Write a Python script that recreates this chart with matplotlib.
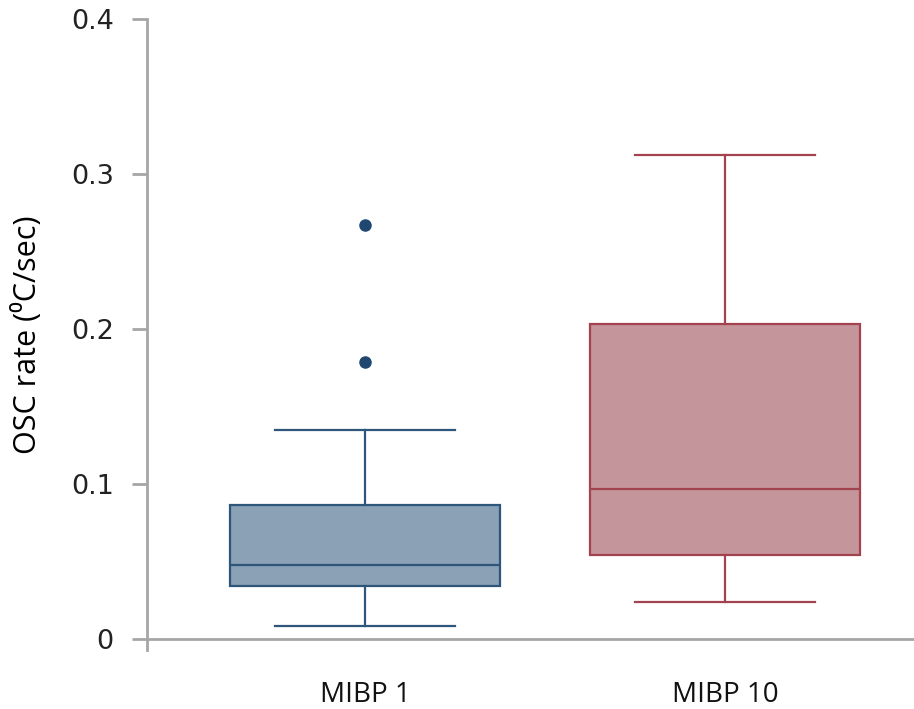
import matplotlib
matplotlib.use("Agg")
import matplotlib.pyplot as plt

# summary stats of OSC rate per group
groups = ["MIBP 1", "MIBP 10"]
whis_lo = [0.0086, 0.0237]
q1 = [0.0344, 0.0542]
median = [0.0477, 0.0968]
q3 = [0.0865, 0.203]
whis_hi = [0.135, 0.3125]
outliers = [[0.179, 0.267], []]

fill_cols = ["#8ba1b5", "#c4959a"]
edge_cols = ["#2e557a", "#a3434f"]

stats = []
for i in range(len(groups)):
    stats.append(dict(label=groups[i], whislo=whis_lo[i], q1=q1[i], med=median[i],
                      q3=q3[i], whishi=whis_hi[i], fliers=outliers[i]))

fig = plt.figure(figsize=(9.14, 7.09), dpi=100)
ax = fig.add_axes([147/914, (709-650)/709, 1-147/914, (650-19)/709])

for i in range(len(groups)):
    ec = edge_cols[i]
    ax.bxp([stats[i]], positions=[i+1], widths=0.75, patch_artist=True,
           showfliers=True,
           boxprops=dict(facecolor=fill_cols[i], edgecolor=ec, linewidth=1.6),
           medianprops=dict(color=ec, linewidth=1.6),
           whiskerprops=dict(color=ec, linewidth=1.6),
           capprops=dict(color=ec, linewidth=1.6),
           capwidths=0.5,
           flierprops=dict(marker='o', markerfacecolor="#1f4770", markeredgecolor="#1f4770",
                           markersize=8))

ax.set_xlim(1-218/360, 2+189/360)
ax.set_ylim(-0.007, 0.4)

for s in ['top', 'right']:
    ax.spines[s].set_visible(False)
ax.spines['bottom'].set_position(('data', 0))
for s in ['left', 'bottom']:
    ax.spines[s].set_color('#a6a6a6')
    ax.spines[s].set_linewidth(2)

ax.tick_params(axis='y', direction='out', length=11, width=2, color='#a6a6a6', pad=13)
ax.tick_params(axis='x', length=0, pad=30)

ax.set_yticks([0, 0.1, 0.2, 0.3, 0.4])
ax.set_yticklabels(["0", "0.1", "0.2", "0.3", "0.4"], family='DejaVu Sans',
                   fontsize=19.5, color='#222222')
ax.set_xticks([1, 2])
ax.set_xticklabels(groups, family=['Open Sans', 'DejaVu Sans'], fontsize=20,
                   color='#111111')

ax.set_ylabel("OSC rate (\u2070C/sec)", family=['Open Sans', 'DejaVu Sans'],
              fontsize=22)
ax.yaxis.set_label_coords(-0.135, 0.5)

fig.savefig("out.png", dpi=100)
